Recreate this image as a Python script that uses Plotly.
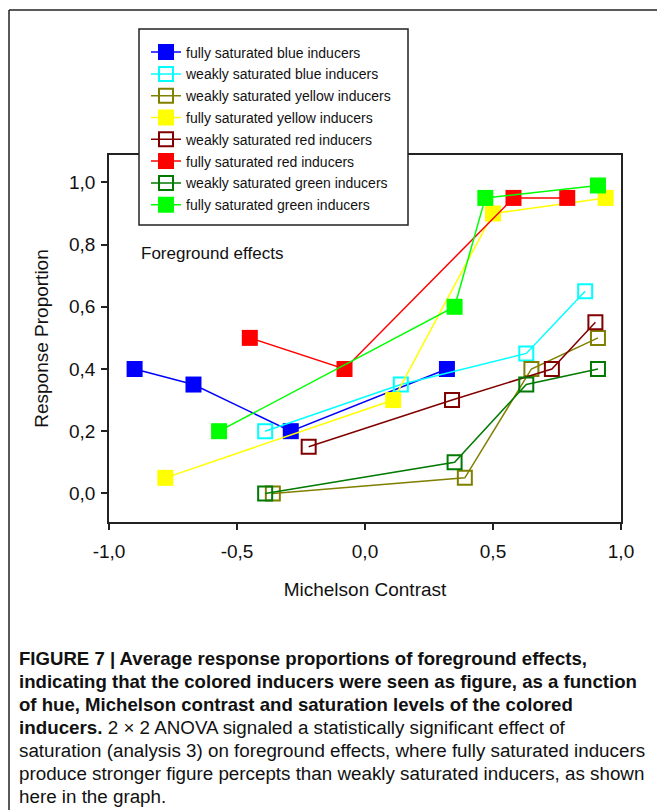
import plotly.graph_objects as go

# ---- data ----
series_names = [
    "fully saturated blue inducers",
    "weakly saturated blue inducers",
    "weakly saturated yellow inducers",
    "fully saturated yellow inducers",
    "weakly saturated red inducers",
    "fully saturated red inducers",
    "weakly saturated green inducers",
    "fully saturated green inducers",
]
full_blue_x = [-0.90, -0.67, -0.29, 0.32]
full_blue_y = [0.40, 0.35, 0.20, 0.40]
weak_blue_x = [-0.39, 0.14, 0.63, 0.86]
weak_blue_y = [0.20, 0.35, 0.45, 0.65]
weak_yellow_x = [-0.36, 0.39, 0.65, 0.91]
weak_yellow_y = [0.00, 0.05, 0.40, 0.50]
full_yellow_x = [-0.78, 0.11, 0.50, 0.94]
full_yellow_y = [0.05, 0.30, 0.90, 0.95]
weak_red_x = [-0.22, 0.34, 0.73, 0.90]
weak_red_y = [0.15, 0.30, 0.40, 0.55]
full_red_x = [-0.45, -0.08, 0.58, 0.79]
full_red_y = [0.50, 0.40, 0.95, 0.95]
weak_green_x = [-0.39, 0.35, 0.63, 0.91]
weak_green_y = [0.00, 0.10, 0.35, 0.40]
full_green_x = [-0.57, 0.35, 0.47, 0.91]
full_green_y = [0.20, 0.60, 0.95, 0.99]

x_tickvals = [-1.0, -0.5, 0.0, 0.5, 1.0]
x_ticktext = ["-1,0", "-0,5", "0,0", "0,5", "1,0"]
y_tickvals = [0.0, 0.2, 0.4, 0.6, 0.8, 1.0]
y_ticktext = ["0,0", "0,2", "0,4", "0,6", "0,8", "1,0"]

caption_lines = [
    "<b>FIGURE 7 | Average response proportions of foreground effects,</b>",
    "<b>indicating that the colored inducers were seen as figure, as a function</b>",
    "<b>of hue, Michelson contrast and saturation levels of the colored</b>",
    "<b>inducers.</b> 2 × 2 ANOVA signaled a statistically significant effect of",
    "saturation (analysis 3) on foreground effects, where fully saturated inducers",
    "produce stronger figure percepts than weakly saturated inducers, as shown",
    "here in the graph.",
]

# ---- styles ----
FONT = "Liberation Sans, Arial, sans-serif"
series = [
    (full_blue_x, full_blue_y, "#0000ff", True),
    (weak_blue_x, weak_blue_y, "#00ffff", False),
    (weak_yellow_x, weak_yellow_y, "#808000", False),
    (full_yellow_x, full_yellow_y, "#ffff00", True),
    (weak_red_x, weak_red_y, "#800000", False),
    (full_red_x, full_red_y, "#ff0000", True),
    (weak_green_x, weak_green_y, "#007a00", False),
    (full_green_x, full_green_y, "#00ff00", True),
]

fig = go.Figure()
for i, (name, (xs, ys, col, filled)) in enumerate(zip(series_names, series)):
    if filled:
        marker = dict(symbol="square", size=16, color=col, line=dict(width=0))
    else:
        marker = dict(symbol="square-open", size=14, color=col, line=dict(width=2, color=col))
    fig.add_trace(go.Scatter(
        x=xs, y=ys, name=name, mode="lines+markers",
        line=dict(color=col, width=1.5), marker=marker,
        legendgroup="g%d" % i,
    ))

# body margin is removed by post_script, so page pixels == figure pixels
W, H = 657, 810
# plot area in page pixels: x 109..621, y 155..522
L, T = 109, 155
R = W - 621
B = H - 522
pw, ph = W - L - R, H - T - B

def px2paper(x, y):
    """page pixel -> paper coords"""
    return (x - L) / pw, (H - B - y) / ph

lx, _ = px2paper(146, 0)
_, ly = px2paper(0, 36.5)

fig.update_layout(
    width=W, height=H, autosize=False,
    margin=dict(l=L, r=R, t=T, b=B, pad=0),
    paper_bgcolor="white", plot_bgcolor="white",
    font=dict(family=FONT, color="#111"),
    showlegend=True,
    legend=dict(
        x=lx, y=ly, xanchor="left", yanchor="top",
        bgcolor="rgba(0,0,0,0)", borderwidth=0,
        font=dict(size=14, family=FONT, color="#111"),
        traceorder="grouped", tracegroupgap=0.6,
    ),
    xaxis=dict(
        range=[-1.0, 1.0], tickvals=x_tickvals, ticktext=x_ticktext,
        showgrid=False, zeroline=False, showline=True, linecolor="#222", linewidth=1.5,
        mirror=True, ticks="outside", ticklen=6, tickwidth=1.5, tickcolor="#222",
        ticklabelstandoff=5,
        tickfont=dict(size=19, family=FONT, color="#111"),
        title=dict(text="Michelson Contrast", font=dict(size=19, family=FONT, color="#111"), standoff=22),
    ),
    yaxis=dict(
        range=[-0.092, 1.088], tickvals=y_tickvals, ticktext=y_ticktext,
        showgrid=False, zeroline=False, showline=True, linecolor="#222", linewidth=1.5,
        mirror=True, ticks="outside", ticklen=6, tickwidth=1.5, tickcolor="#222",
        ticklabelstandoff=2,
        tickfont=dict(size=19, family=FONT, color="#111"),
        title=dict(text="Response Proportion", font=dict(size=19, family=FONT, color="#111"), standoff=15),
    ),
)

# legend box (white, bordered), drawn over the plot frame
bx0, by0 = px2paper(139, 29)
bx1, by1 = px2paper(408, 225)
fig.add_shape(type="rect", xref="paper", yref="paper", x0=bx0, y0=by1, x1=bx1, y1=by0,
              fillcolor="white", line=dict(color="#222", width=1.5), layer="above")

# "Foreground effects" label
fx, fy = px2paper(139, 253)
fig.add_annotation(x=fx, y=fy, xref="paper", yref="paper", xanchor="left", yanchor="middle",
                   text="Foreground effects", showarrow=False,
                   font=dict(size=17, family=FONT, color="#111"))

# outer frame (top and left lines)
x0, y0 = px2paper(9, 10)
x1, y1 = px2paper(670, 830)
fig.add_shape(type="line", xref="paper", yref="paper", x0=x0, y0=y0, x1=x1, y1=y0,
              line=dict(color="#222", width=1.5))
fig.add_shape(type="line", xref="paper", yref="paper", x0=x0, y0=y0, x1=x0, y1=y1,
              line=dict(color="#222", width=1.5))

# caption
cap_y = [658, 681, 704, 727, 750, 773, 796]
cap_size = [18.6, 18.6, 18.6, 18.8, 18.8, 18.8, 18.8]
for txt, yy, fs in zip(caption_lines, cap_y, cap_size):
    cx, cy = px2paper(17, yy)
    fig.add_annotation(x=cx, y=cy, xref="paper", yref="paper", xanchor="left", yanchor="middle",
                       text=txt, showarrow=False, align="left",
                       font=dict(size=fs, family=FONT, color="#111"))

fig.write_html(
    "out.html",
    config={"displayModeBar": False},
    post_script="document.body.style.margin='0';document.body.style.overflow='hidden';",
)
